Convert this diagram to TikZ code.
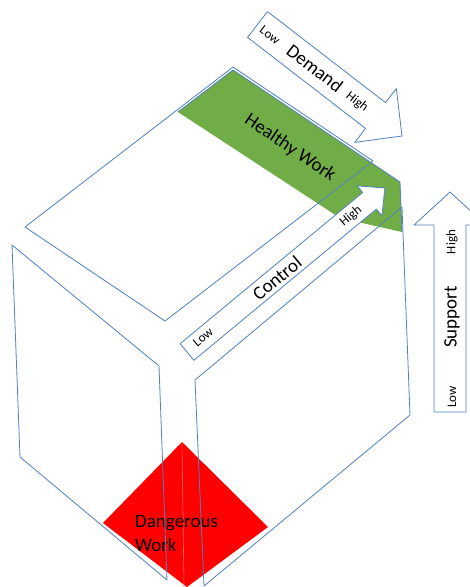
\documentclass[tikz,border=0pt]{standalone}
\usepackage{fontspec}
\setmainfont{Carlito}
\definecolor{edgeblue}{RGB}{79,129,189}
\definecolor{healthy}{RGB}{112,173,71}
\definecolor{danger}{RGB}{255,0,0}
\tikzset{
  face/.style={draw=edgeblue, line width=0.8pt, line join=round},
  arrowbox/.style={face, fill=white},
  bigtxt/.style={font=\fontsize{19}{24}\selectfont, inner sep=0pt},
  smalltxt/.style={font=\fontsize{13}{15}\selectfont, inner sep=0pt},
}
\begin{document}
\begin{tikzpicture}[x=1pt,y=-1pt]

	\clip (0,0) rectangle (470,587);
	\fill[white] (0,0) rectangle (470,587);

	% Dangerous work corner
	\fill[danger] (182,442) -- (268,527) -- (187,587) -- (103,523) -- cycle;
	\draw[danger!60!white, line width=0.6pt] (182,442) -- (184,587);
	\node[bigtxt, align=left, anchor=north west] (danger) at (135,515) {Dangerous\\Work};

	% Healthy work zone
	\fill[healthy] (178,112) -- (233,70) -- (400,182) -- (402,232) -- (340,218) -- cycle;
	\draw[face] (178,112) -- (233,70) -- (400,182) -- (402,232);
	\node[bigtxt, rotate=-34] (healthy) at (290,148) {Healthy Work};

	% The three faces of the cube
	\draw[face] (25,227) -- (233,67) -- (373,161) -- (165,321) -- cycle;
	\draw[face] (12,245) -- (159,366) -- (167,580) -- (20,457) -- cycle;
	\draw[face] (195,380) -- (402,207) -- (410,415) -- (204,586) -- cycle;

	% Control arrow
	\draw[arrowbox] (180.1,343.7) -- (362.6,192.5) -- (357.1,185.8) -- (384.9,188)
		-- (381.9,215.8) -- (376.4,209.1) -- (193.9,360.3) -- cycle;
	\node[smalltxt, rotate=39.6] (cLow) at (203,337) {Low};
	\node[bigtxt, rotate=39.6] (control) at (277,278) {Control};
	\node[smalltxt, rotate=39.6] (cHigh) at (351,216) {High};

	% Demand arrow
	\draw[arrowbox] (267.5,11.6) -- (385.5,102.6) -- (396.3,88.6) -- (402,136)
		-- (354.7,142.4) -- (365.5,128.4) -- (247.5,37.4) -- cycle;
	\node[smalltxt, rotate=-37.7] (dLow) at (270,35) {Low};
	\node[bigtxt, rotate=-37.7] (demand) at (315,68) {Demand};
	\node[smalltxt, rotate=-37.7] (dHigh) at (357,102) {High};

	% Support arrow
	\draw[arrowbox] (434,412) -- (434,225) -- (414,225) -- (450,192)
		-- (486,225) -- (466,225) -- (466,412) -- cycle;
	\node[smalltxt, rotate=90] (sLow) at (452,397) {Low};
	\node[bigtxt, rotate=90] (support) at (452,317) {Support};
	\node[smalltxt, rotate=90] (sHigh) at (452,242) {High};

\end{tikzpicture}
\end{document}
